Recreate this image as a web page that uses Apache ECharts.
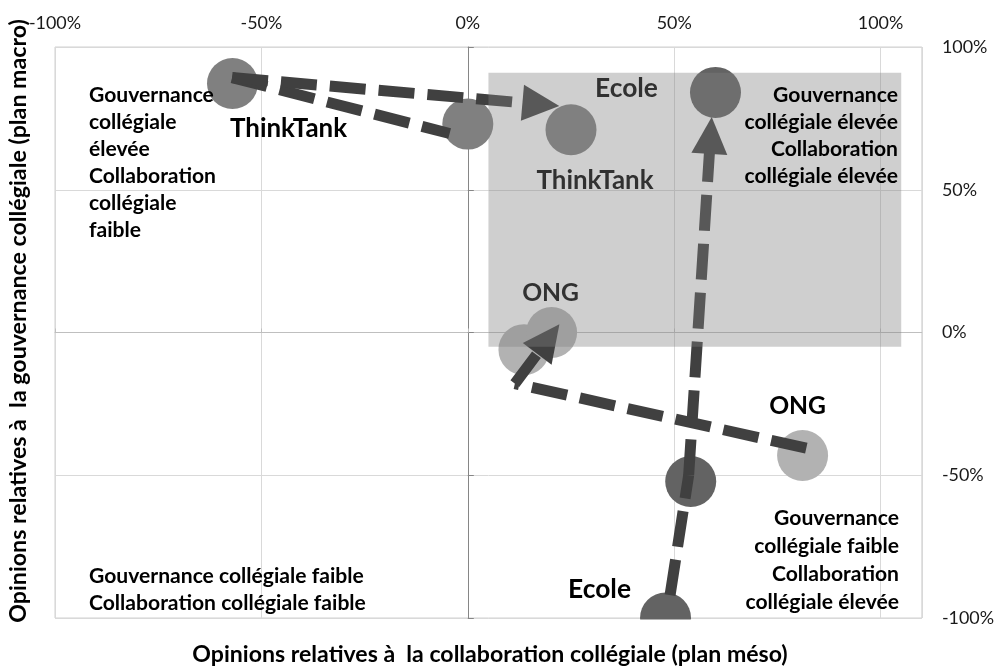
<!DOCTYPE html>
<html>
<head>
<meta charset="utf-8">
<script src="https://cdn.jsdelivr.net/npm/echarts@6/dist/echarts.min.js"></script>
<style>
  html, body { margin: 0; padding: 0; background: #fff; }
  #chart { width: 997px; height: 666px; }
</style>
</head>
<body>
<div id="chart"></div>
<script>
// bubble positions (collaboration x, gouvernance y), start -> middle -> end
const thinkTank = [[-0.57, 0.872], [0.0, 0.73], [0.25, 0.71]];
const ecole = [[0.479, -1.0], [0.54, -0.522], [0.60, 0.841]];
const ong = [[0.811, -0.431], [0.136, -0.06], [0.203, 0.0]];

// shaded zone (top-left corner, bottom-right corner)
const zone = [[0.05, 0.91], [1.05, -0.05]];

// dashed arrows drawn over the bubbles, one list of points per arrow
const ttArrowA = [[-0.571, 0.893], [-0.044, 0.697]];
const ttArrowB = [[-0.571, 0.893], [0.177, 0.799]];
const ecoleArrow = [[0.49, -0.92], [0.535, -0.50], [0.588, 0.69]];
const ongArrow = [[0.82, -0.405], [0.114, -0.179], [0.195, -0.023]];

const xLabel = 'Opinions relatives à  la collaboration collégiale (plan méso)';
const yLabel = 'Opinions relatives à  la gouvernance collégiale (plan macro)';

const FONT = 'Lato, "Liberation Sans", sans-serif';
const pct = v => Math.round(v * 100) + '%';

const ctx = document.createElement('canvas').getContext('2d');
// font size that makes a text as wide as it is in the reference
function fitSize(text, width, weight) {
  ctx.font = weight + ' 20px ' + FONT;
  return +(20 * width / ctx.measureText(text).width).toFixed(1);
}

const titleX = fitSize(xLabel, 596, 'bold');
const titleY = fitSize(yLabel, 603, 'bold');
const noteSize = fitSize('Gouvernance', 125, 'bold');
const tickSize = fitSize('-50%', 41.7, 'normal');
const nameSize = {
  ThinkTank: fitSize('ThinkTank', 117, 'bold'),
  Ecole: fitSize('Ecole', 63, 'bold'),
  ONG: fitSize('ONG', 57, 'bold')
};

const chart = echarts.init(document.getElementById('chart'));

function bubbles(name, pts, color, labels) {
  return {
    name: name,
    type: 'scatter',
    z: 3,
    symbolSize: 51,
    itemStyle: { color: color, opacity: 1 },
    data: pts.map((p, i) => {
      const item = { value: p };
      if (labels[i]) {
        item.label = {
          show: true,
          formatter: name,
          position: 'inside',
          offset: labels[i],
          color: '#000',
          fontFamily: FONT,
          fontWeight: 'bold',
          fontSize: nameSize[name]
        };
      }
      return item;
    })
  };
}

function arrow(pts, curves) {
  const segs = [];
  for (let i = 0; i < pts.length - 1; i++) {
    const last = i === pts.length - 2;
    segs.push([
      { coord: pts[i], symbol: 'none' },
      {
        coord: pts[i + 1],
        symbol: last ? 'triangle' : 'none',
        symbolSize: [36, 37],
        lineStyle: { curveness: curves ? curves[i] : 0 }
      }
    ]);
  }
  return segs;
}

function arrowNoHead(pts, curve) {
  return [[
    { coord: pts[0], symbol: 'none' },
    { coord: pts[1], symbol: 'none', lineStyle: { curveness: curve } }
  ]];
}

const noteStyle = {
  font: 'bold ' + noteSize + 'px ' + FONT, fill: '#000', textVerticalAlign: 'top'
};

const option = {
  animation: false,
  backgroundColor: '#fff',
  grid: {
    left: 55, right: 74, top: 47, bottom: 48,
    show: true, borderColor: '#d0d0d0', borderWidth: 1
  },
  xAxis: {
    type: 'value',
    position: 'top',
    min: -1, max: 1.1, interval: 0.5,
    axisLine: { show: true, lineStyle: { color: '#bfbfbf' } },
    axisTick: { show: true, length: 4, lineStyle: { color: '#bfbfbf' } },
    axisLabel: {
      formatter: pct, showMaxLabel: false, margin: 15,
      color: '#1a1a1a', fontFamily: FONT, fontSize: tickSize
    },
    splitLine: { show: true, lineStyle: { color: '#d9d9d9' } }
  },
  yAxis: {
    type: 'value',
    position: 'right',
    min: -1, max: 1, interval: 0.5,
    axisLine: { show: true, lineStyle: { color: '#868686' } },
    axisTick: { show: true, length: 6, lineStyle: { color: '#868686' } },
    axisLabel: {
      formatter: pct, margin: 20,
      color: '#1a1a1a', fontFamily: FONT, fontSize: tickSize
    },
    splitLine: { show: true, lineStyle: { color: '#d9d9d9' } }
  },
  series: [
    bubbles('ThinkTank', thinkTank, '#808080', [[56, 45], null, [24, 51]]),
    bubbles('Ecole', ecole, '#636363', [[-66, -29], null, [-89, -4]]),
    bubbles('ONG', ong, '#b2b2b2', [[-5, -50], null, [-1, -39]]),
    {
      name: 'fleches',
      type: 'line',
      z: 5,
      data: [],
      markLine: {
        silent: true,
        symbol: ['none', 'none'],
        label: { show: false },
        lineStyle: { color: '#404040', width: 11, type: [36, 13], opacity: 1 },
        data: [].concat(
          arrowNoHead(ttArrowA, -0.06),
          arrow(ttArrowB, [-0.02]),
          arrow(ecoleArrow, [-0.15, 0]),
          arrow(ongArrow, [0, 0])
        )
      }
    },
    {
      // translucent zone lies over the bubbles and arrows
      name: 'zone',
      type: 'custom',
      z: 8,
      silent: true,
      data: [zone[0].concat(zone[1])],
      renderItem: (params, api) => {
        const a = api.coord([api.value(0), api.value(1)]);
        const b = api.coord([api.value(2), api.value(3)]);
        return {
          type: 'rect',
          shape: { x: a[0], y: a[1], width: b[0] - a[0], height: b[1] - a[1] },
          style: { fill: 'rgba(130,130,130,0.38)' }
        };
      }
    },
    {
      // the lowest Ecole bubble is cut by the bottom of the plot
      name: 'coupe',
      type: 'custom',
      z: 9,
      silent: true,
      data: [ecole[0]],
      renderItem: (params, api) => {
        const p = api.coord([api.value(0), api.value(1)]);
        return {
          type: 'rect',
          shape: { x: p[0] - 30, y: p[1] + 1.5, width: 60, height: 27 },
          style: { fill: '#fff' }
        };
      }
    }
  ],
  graphic: [
    {
      type: 'text', x: 89, y: 81.5, z: 10,
      style: Object.assign({
        text: 'Gouvernance\ncollégiale\nélevée\nCollaboration\ncollégiale\nfaible',
        lineHeight: 27
      }, noteStyle)
    },
    {
      type: 'text', x: 898, y: 81.5, z: 10,
      style: Object.assign({
        text: 'Gouvernance\ncollégiale élevée\nCollaboration\ncollégiale élevée',
        lineHeight: 27, textAlign: 'right'
      }, noteStyle)
    },
    {
      type: 'text', x: 899, y: 504.5, z: 10,
      style: Object.assign({
        text: 'Gouvernance\ncollégiale faible\nCollaboration\ncollégiale élevée',
        lineHeight: 28, textAlign: 'right'
      }, noteStyle)
    },
    {
      type: 'text', x: 89, y: 563, z: 10,
      style: Object.assign({
        text: 'Gouvernance collégiale faible\nCollaboration collégiale faible',
        lineHeight: 27
      }, noteStyle)
    },
    {
      type: 'text', x: 490, y: 655, z: 10,
      style: {
        text: xLabel, font: 'bold ' + titleX + 'px ' + FONT, fill: '#000',
        textAlign: 'center', textVerticalAlign: 'middle'
      }
    },
    {
      type: 'text', x: 19, y: 321, z: 10, rotation: Math.PI / 2,
      style: {
        text: yLabel, font: 'bold ' + titleY + 'px ' + FONT, fill: '#000',
        textAlign: 'center', textVerticalAlign: 'middle'
      }
    }
  ]
};

chart.setOption(option);
</script>
</body>
</html>
